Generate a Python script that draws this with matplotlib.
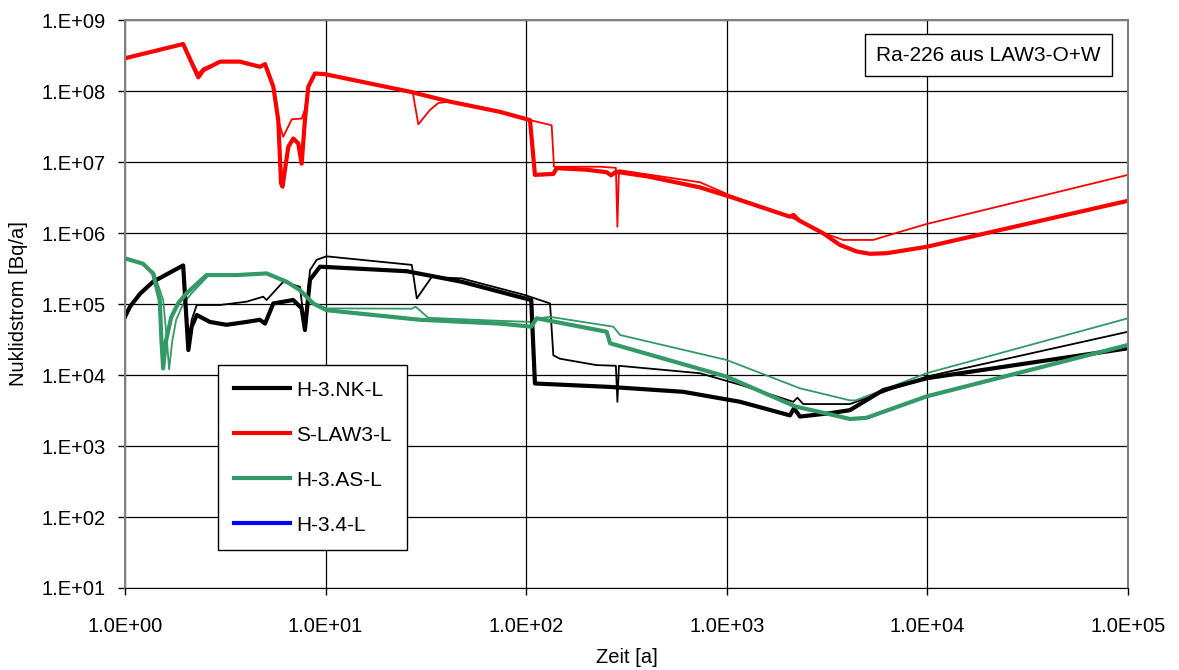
import numpy as np
import matplotlib
matplotlib.use('Agg')
from matplotlib import pyplot as plt
from matplotlib.ticker import FixedLocator, FuncFormatter, NullLocator

plt.rcParams['font.family'] = ['Liberation Sans', 'DejaVu Sans']

# H-3.NK-L (thick) and its thin variant
nk_x = [1.0, 1.06, 1.19, 1.38, 1.95, 2.07, 2.15, 2.28, 2.65, 3.21, 4.04, 4.71, 4.99, 5.49, 6.9, 7.6, 7.89,
        8.36, 9.38, 25.4, 47.7, 98.6, 106, 110.6, 262, 607, 1164, 2066, 2163, 2317, 3269, 4110, 6030, 9910, 1e5]
nk_y = [6.6e4, 9.2e4, 1.4e5, 2.06e5, 3.5e5, 2.25e4, 4.8e4, 7.0e4, 5.6e4, 5.1e4, 5.6e4, 6.0e4, 5.3e4, 1.02e5, 1.14e5, 8.7e4, 4.3e4,
        2.2e5, 3.36e5, 2.9e5, 2.06e5, 1.2e5, 1.14e5, 7.6e3, 6.8e3, 5.8e3, 4.2e3, 2.7e3, 3.4e3, 2.6e3, 2.9e3, 3.2e3, 6.15e3, 9.0e3, 2.38e4]
nk_var_x = [1.0, 1.06, 1.19, 1.38, 1.95, 2.07, 2.15, 2.28, 2.98, 4.04, 4.89, 5.08, 6.15, 7.45, 7.89, 8.36, 9.03, 10.1,
            26.9, 28.5, 33.8, 47.7, 98.6, 131.5, 136.6, 147, 224, 280, 285, 290, 735, 1164, 2147, 2250, 2404, 4110, 9910, 1e5]
nk_var_y = [6.6e4, 9.2e4, 1.4e5, 2.06e5, 3.5e5, 2.25e4, 6.0e4, 9.7e4, 9.7e4, 1.08e5, 1.27e5, 1.14e5, 2.06e5, 1.75e5, 4.5e4, 3.0e5, 4.2e5, 4.7e5,
            3.56e5, 1.2e5, 2.4e5, 2.3e5, 1.34e5, 1.02e5, 1.9e4, 1.7e4, 1.38e4, 1.35e4, 4.2e3, 1.35e4, 1.06e4, 7.3e3, 4.2e3, 4.8e3, 3.9e3, 3.9e3, 9.5e3, 4.07e4]

# S-LAW3-L (thick) and its thin variant
law_x = [1.0, 1.95, 2.32, 2.46, 2.98, 3.74, 4.71, 4.99, 5.49, 5.81, 6.0, 6.1, 6.52, 6.9, 7.31, 7.6, 7.89, 8.2, 8.85, 9.94,
         26.3, 41.7, 74, 104.5, 110.6, 136.6, 142, 200, 252, 265, 280, 400, 735, 1038, 2066, 2150, 2300, 3029, 3666, 4443, 5175, 6268, 9910, 1e5]
law_y = [2.9e8, 4.6e8, 1.56e8, 1.97e8, 2.6e8, 2.6e8, 2.2e8, 2.4e8, 1.15e8, 3.9e7, 5.0e6, 4.5e6, 1.64e7, 2.15e7, 1.83e7, 9.5e6, 3.9e7, 1.15e8, 1.77e8, 1.73e8,
         9.8e7, 7.1e7, 5.1e7, 3.9e7, 6.6e6, 6.8e6, 8.2e6, 7.8e6, 7.2e6, 6.5e6, 7.3e6, 6.3e6, 4.4e6, 3.25e6, 1.7e6, 1.8e6, 1.5e6, 9.9e5, 6.8e5, 5.5e5, 5.1e5, 5.2e5, 6.4e5, 2.85e6]
law_var_x = [1.0, 1.95, 2.32, 2.46, 2.98, 3.74, 4.71, 4.99, 5.49, 5.81, 6.15, 6.78, 7.6, 7.89, 8.2, 8.85, 9.94,
             26.3, 27.2, 29, 33.1, 36.5, 41.7, 74, 104.5, 134, 137.6, 233, 280, 285, 290, 735, 1038, 2066, 3029, 3812, 5370, 7300, 9910, 1e5]
law_var_y = [2.9e8, 4.6e8, 1.76e8, 2.1e8, 2.6e8, 2.6e8, 2.2e8, 2.4e8, 1.15e8, 3.9e7, 2.27e7, 4.0e7, 4.1e7, 5.5e7, 1.15e8, 1.77e8, 1.73e8,
             9.8e7, 9.6e7, 3.4e7, 5.4e7, 6.8e7, 7.1e7, 5.1e7, 3.9e7, 3.3e7, 8.6e6, 8.6e6, 8.3e6, 1.23e6, 7.7e6, 5.2e6, 3.4e6, 1.7e6, 1.0e6, 8.0e5, 8.0e5, 1.04e6, 1.34e6, 6.6e6]

# H-3.AS-L (thick) and its thin variant
as_x = [1.0, 1.23, 1.38, 1.49, 1.52, 1.55, 1.6, 1.7, 1.85, 2.03, 2.55, 3.6, 5.08, 6.4, 7.45, 8.68, 10.1, 29.6, 74, 106, 112.8,
        252, 262, 998, 2200, 3666, 4110, 4980, 9910, 1e5]
as_y = [4.4e5, 3.7e5, 2.7e5, 1.14e5, 3.1e4, 1.24e4, 3.0e4, 6.5e4, 1.05e5, 1.42e5, 2.56e5, 2.56e5, 2.7e5, 2.06e5, 1.57e5, 1.02e5, 8.2e4, 6.0e4, 5.3e4, 4.8e4, 6.3e4,
        4.07e4, 2.8e4, 9.5e3, 3.6e3, 2.6e3, 2.4e3, 2.5e3, 5.0e3, 2.65e4]
as_var_x = [1.0, 1.23, 1.4, 1.55, 1.62, 1.66, 1.72, 1.8, 1.95, 2.15, 2.6, 3.6, 5.08, 6.4, 7.45, 8.68, 10.1, 26.9, 28.1, 32.5,
            74, 106, 110, 131.5, 272, 294, 998, 2317, 4110, 4400, 9910, 1e5]
as_var_y = [4.4e5, 3.7e5, 2.7e5, 1.14e5, 3.0e4, 1.2e4, 3.0e4, 6.0e4, 1.0e5, 1.42e5, 2.5e5, 2.56e5, 2.7e5, 2.06e5, 1.57e5, 1.02e5, 8.7e4, 8.6e4, 9.2e4, 6.4e4,
            5.8e4, 5.6e4, 6.2e4, 6.6e4, 4.8e4, 3.66e4, 1.63e4, 6.5e3, 4.4e3, 4.4e3, 1.06e4, 6.3e4]

# H-3.4-L has no visible values in the chart
h34_x = []
h34_y = []

green = '#339966'
thick = 3.0
thin = 1.3

fig, ax = plt.subplots(figsize=(11.79, 6.70), dpi=100)
fig.subplots_adjust(left=0.106, right=0.9567, top=0.970, bottom=0.1224)

ax.plot(law_var_x, law_var_y, color='red', lw=thin)
ax.plot(nk_var_x, nk_var_y, color='black', lw=thin)
ax.plot(as_var_x, as_var_y, color=green, lw=thin)
h_nk, = ax.plot(nk_x, nk_y, color='black', lw=thick, label='H-3.NK-L')
h_law, = ax.plot(law_x, law_y, color='red', lw=thick, label='S-LAW3-L')
h_as, = ax.plot(as_x, as_y, color=green, lw=thick, label='H-3.AS-L')
h_34, = ax.plot(h34_x, h34_y, color='blue', lw=thick, label='H-3.4-L')

ax.set_xscale('log')
ax.set_yscale('log')
ax.set_xlim(1, 1e5)
ax.set_ylim(10, 1e9)

ax.xaxis.set_major_locator(FixedLocator([10.0 ** k for k in range(0, 6)]))
ax.yaxis.set_major_locator(FixedLocator([10.0 ** k for k in range(1, 10)]))
ax.xaxis.set_minor_locator(NullLocator())
ax.yaxis.set_minor_locator(NullLocator())
ax.xaxis.set_major_formatter(FuncFormatter(lambda v, p: f'1.0E+{int(round(np.log10(v))):02d}'))
ax.yaxis.set_major_formatter(FuncFormatter(lambda v, p: f'1.E+{int(round(np.log10(v))):02d}'))
ax.tick_params(axis='x', direction='out', length=5, width=1, pad=16, labelsize=14.5)
ax.tick_params(axis='y', direction='out', length=5, width=1, pad=9, labelsize=14.5)

ax.grid(True, which='major', color='black', lw=0.9)
ax.set_axisbelow(True)
for side in ['top', 'right', 'left']:
    ax.spines[side].set_color('#808080')
    ax.spines[side].set_linewidth(1.5)
ax.spines['bottom'].set_color('black')

ax.set_xlabel('Zeit [a]', fontsize=14.5)
ax.set_ylabel('Nuklidstrom [Bq/a]', fontsize=14.5)
ax.xaxis.set_label_coords(0.5, -0.105)
ax.yaxis.set_label_coords(-0.097, 0.5)

leg = ax.legend(handles=[h_nk, h_law, h_as, h_34], loc='upper left', bbox_to_anchor=(0.0927, 0.3926),
                fontsize=15, frameon=True, fancybox=False, edgecolor='black', framealpha=1,
                labelspacing=1.25, handlelength=2.7, handletextpad=0.3, borderpad=0.75, borderaxespad=0)
leg.get_frame().set_linewidth(1.0)

ax.text(0.861, 0.938, 'Ra-226 aus LAW3-O+W', transform=ax.transAxes, fontsize=15,
        ha='center', va='center',
        bbox=dict(boxstyle='square,pad=0.55', facecolor='white', edgecolor='black', lw=1.0))

fig.savefig('out.png', dpi=100)
